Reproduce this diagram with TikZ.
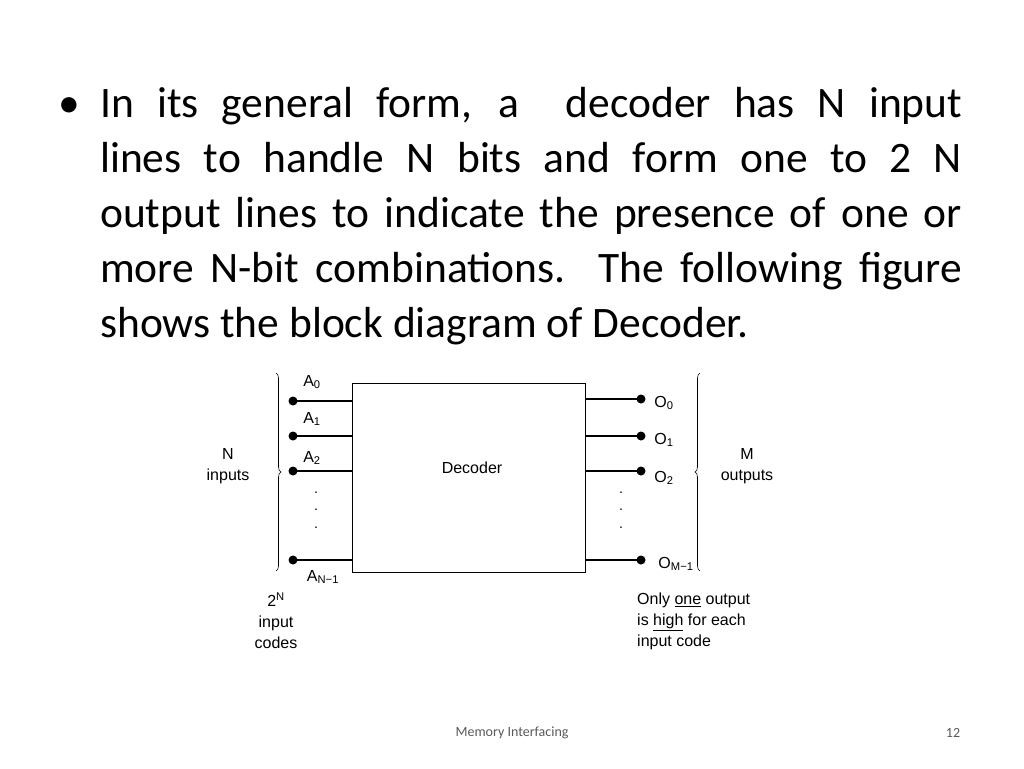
\documentclass[tikz,border=0pt]{standalone}
\usepackage{fontspec}
\setmainfont{Carlito}
\newfontfamily\diagfont{Liberation Sans}
\usetikzlibrary{decorations.pathreplacing}
\tikzset{
  lbl/.style={font=\diagfont\fontsize{16}{21}\selectfont, inner sep=0pt},
  wire/.style={line width=1.6pt},
  vdot/.style={font=\diagfont\fontsize{14}{14}\selectfont, inner sep=0pt}
}
\newcommand{\sub}[1]{\textsubscript{#1}}
\begin{document}
\begin{tikzpicture}[x=1pt,y=-1pt]
  \useasboundingbox (0,0) rectangle (1024,768);
  % bullet text
  \node[anchor=base west, inner sep=0pt, text width=862pt, align=justify,
        font=\fontsize{43.5}{55}\selectfont] (txt) at (100,117)
    {In its general form, a \ decoder has N input\linebreak
     lines to handle N bits and form one to 2 N\linebreak
     output lines to indicate the presence of one or\linebreak
     more N-bit combinations. The following figure\linebreak
     shows the block diagram of Decoder.};
  \node[anchor=base west, inner sep=0pt, font=\fontsize{43.5}{55}\selectfont] (bul) at (58,117) {•};
  % decoder block
  \draw[line width=1pt] (352,383) rectangle (585,572);
  \node[lbl] (dec) at (472,468) {Decoder};
  % inputs
  \foreach \y/\n in {401/0,436/1,471/2,560/3} {
    \coordinate (i\n) at (293,\y);
    \coordinate (ie\n) at (352,\y);
    \draw[wire] (i\n) -- (ie\n);
    \fill (i\n) circle (4.5pt);
  }
  \node[lbl] (a0) at (312,382) {A\sub{0}};
  \node[lbl] (a1) at (312,419) {A\sub{1}};
  \node[lbl] (a2) at (312,458) {A\sub{2}};
  \node[lbl] (an) at (323,577) {A\sub{N−1}};
  \foreach \y in {493,510,528} \node[vdot] at (316,\y) {.};
  % outputs
  \foreach \y/\n in {399/0,436/1,471/2,560/3} {
    \coordinate (oe\n) at (585,\y);
    \coordinate (o\n) at (641,\y);
    \draw[wire] (oe\n) -- (o\n);
    \fill (o\n) circle (4.5pt);
  }
  \node[lbl] (q0) at (664,403) {O\sub{0}};
  \node[lbl] (q1) at (664,440) {O\sub{1}};
  \node[lbl] (q2) at (664,478) {O\sub{2}};
  \node[lbl] (qm) at (676,564) {O\sub{M−1}};
  \foreach \y in {493,510,528} \node[vdot] at (621,\y) {.};
  % braces
  \draw[line width=0.6pt, decorate, decoration={brace, amplitude=5pt}] (276,373) -- (276,571);
  \draw[line width=0.6pt, decorate, decoration={brace, amplitude=5pt}] (700,571) -- (700,373);
  \node[lbl, align=center] (nin) at (228,466) {N\\inputs};
  \node[lbl, align=center] (mout) at (747,466) {M\\outputs};
  \node[lbl, align=center] (codes) at (276,621) {2\textsuperscript{N}\\input\\codes};
  \node[lbl, align=left, anchor=west] (note) at (637,621)
    {Only \underline{one} output\\is \underline{high} for each\\input code};
  % footer
  \node[font=\fontsize{14}{14}\selectfont, text=black!65] (foot) at (512,733) {Memory Interfacing};
  \node[font=\fontsize{14}{14}\selectfont, text=black!65] (pg) at (953,733) {12};
\end{tikzpicture}
\end{document}
